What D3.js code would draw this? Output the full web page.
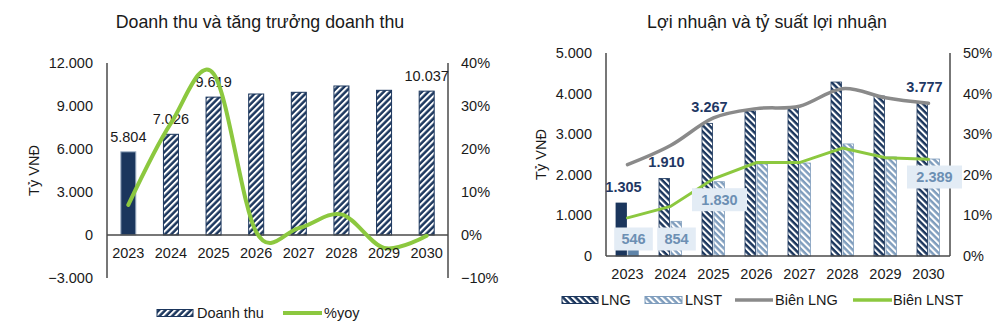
<!DOCTYPE html>
<html><head><meta charset="utf-8">
<script src="https://cdn.jsdelivr.net/npm/d3@7"></script>
<style>
body{margin:0;background:#fff}
text{font-family:"Liberation Sans",Arial,sans-serif;fill:#1a1a1a}
</style></head>
<body><svg id="c" width="1004" height="325"></svg>
<script>
// ---- data ----
const years = ["2023","2024","2025","2026","2027","2028","2029","2030"];
const revenue = [5804, 7026, 9619, 9837, 9956, 10395, 10095, 10037];
const revenueYoy = [0.07, 0.26, 0.375, 0.007, 0.016, 0.048, -0.03, -0.002];
const grossProfit = [1305, 1910, 3267, 3571, 3670, 4285, 3940, 3777];
const netProfit = [546, 854, 1830, 2266, 2290, 2760, 2440, 2389];
const grossMargin = [0.225, 0.272, 0.340, 0.363, 0.369, 0.412, 0.390, 0.376];
const netMargin = [0.094, 0.122, 0.190, 0.230, 0.230, 0.266, 0.242, 0.238];
const leftTicks = [-3000, 0, 3000, 6000, 9000, 12000];
const leftPctTicks = [-0.1, 0, 0.1, 0.2, 0.3, 0.4];
const rightTicks = [0, 1000, 2000, 3000, 4000, 5000];
const rightPctTicks = [0, 0.1, 0.2, 0.3, 0.4, 0.5];
const labeledIdx = [0, 1, 2, 7];

// ---- styles ----
const NAVY = "#1b365d", LIGHT = "#7f9dbd", GRAY = "#8a8a8a", GREEN = "#8cc83f";
const AX = "#4a4a4a";
const vn = d3.formatLocale({decimal:",", thousands:".", grouping:[3], currency:["",""]});
const fNum = vn.format(",.0f");
const fPct = d3.format(".0%");

const svg = d3.select("#c");
const defs = svg.append("defs");
function hatch(id, bg, angle, period) {
  const p = defs.append("pattern").attr("id", id).attr("patternUnits","userSpaceOnUse")
    .attr("width", period).attr("height", period).attr("patternTransform", `rotate(${angle})`);
  p.append("rect").attr("width", period).attr("height", period).attr("fill", bg);
  p.append("rect").attr("x", 0).attr("y", 0).attr("width", period*0.45).attr("height", period).attr("fill", "#fff");
}
hatch("hL", NAVY, 45, 4.5);
hatch("hR", NAVY, -45, 4.5);
hatch("hR2", LIGHT, -45, 4.5);

// ================= LEFT CHART =================
{
  const x = d3.scaleBand().domain(years).range([107, 448]).padding(0);
  const y = d3.scaleLinear().domain([-3000, 12000]).range([278, 63]);
  const y2 = d3.scaleLinear().domain([-0.1, 0.4]).range([278, 63]);
  const cx = d => x(d) + x.bandwidth()/2;
  const g = svg.append("g");

  g.append("text").attr("x", 260).attr("y", 28).attr("text-anchor","middle")
    .style("font-size","17.8px").text("Doanh thu và tăng trưởng doanh thu");

  // axes lines
  g.append("line").attr("x1",107).attr("x2",107).attr("y1",y(12000)).attr("y2",y(-3000)).attr("stroke",AX).attr("stroke-width",1.5);
  g.append("line").attr("x1",448).attr("x2",448).attr("y1",y(12000)).attr("y2",y(-3000)).attr("stroke",AX).attr("stroke-width",1.5);

  // bars
  g.selectAll("rect.bar").data(years).join("rect").attr("class","bar")
    .attr("x", (d)=>cx(d)-7.5).attr("width", 15)
    .attr("y", (d,i)=>y(revenue[i])).attr("height", (d,i)=>y(0)-y(revenue[i]))
    .attr("fill", (d,i)=> i===0 ? NAVY : "url(#hL)")
    .attr("stroke", (d,i)=> i===0 ? "#9fb0c4" : NAVY).attr("stroke-width", 1);

  g.append("line").attr("x1",107).attr("x2",448).attr("y1",y(0)).attr("y2",y(0)).attr("stroke",AX).attr("stroke-width",1.5);

  // labels
  g.selectAll("text.dl").data(labeledIdx).join("text").attr("class","dl")
    .attr("x", i=>cx(years[i])).attr("y", i=>y(revenue[i])-10).attr("text-anchor","middle")
    .style("font-size","14.5px").text(i=>fNum(revenue[i]));

  // yoy line
  const line = d3.line().x((d,i)=>cx(years[i])).y(d=>y2(d)).curve(d3.curveCardinal.tension(0));
  g.append("path").attr("d", line(revenueYoy)).attr("fill","none").attr("stroke",GREEN).attr("stroke-width",4).attr("stroke-linecap","round");

  // tick labels
  g.selectAll("text.yl").data(leftTicks).join("text").attr("class","yl")
    .attr("x", 93).attr("y", d=>y(d)).attr("dy","0.35em").attr("text-anchor","end")
    .style("font-size","14.5px").text(d=>fNum(d));
  g.selectAll("text.yr").data(leftPctTicks).join("text").attr("class","yr")
    .attr("x", 461).attr("y", d=>y2(d)).attr("dy","0.35em").attr("text-anchor","start")
    .style("font-size","14.5px").text(d=>fPct(d));
  g.selectAll("text.xl").data(years).join("text").attr("class","xl")
    .attr("x", d=>cx(d)).attr("y", 258).attr("text-anchor","middle")
    .style("font-size","14.5px").text(d=>d);
  g.append("text").attr("transform",`translate(39,${(y(12000)+y(-3000))/2}) rotate(-90)`)
    .attr("text-anchor","middle").style("font-size","14.5px").text("Tỷ VNĐ");

  // legend
  const ly = 313;
  g.append("rect").attr("x",157).attr("y",ly-3.5).attr("width",36).attr("height",7).attr("fill","url(#hL)").attr("stroke",NAVY).attr("stroke-width",1);
  g.append("text").attr("x",197).attr("y",ly).attr("dy","0.35em").style("font-size","14.5px").text("Doanh thu");
  g.append("line").attr("x1",283).attr("x2",322).attr("y1",ly).attr("y2",ly).attr("stroke",GREEN).attr("stroke-width",4);
  g.append("text").attr("x",324).attr("y",ly).attr("dy","0.35em").style("font-size","14.5px").text("%yoy");
}

// ================= RIGHT CHART =================
{
  const x = d3.scaleBand().domain(years).range([606, 950]).padding(0);
  const y = d3.scaleLinear().domain([0, 5000]).range([256, 53]);
  const y2 = d3.scaleLinear().domain([0, 0.5]).range([256, 53]);
  const cx = d => x(d) + x.bandwidth()/2;
  const g = svg.append("g");

  g.append("text").attr("x", 767).attr("y", 28).attr("text-anchor","middle")
    .style("font-size","17.8px").text("Lợi nhuận và tỷ suất lợi nhuận");

  g.append("line").attr("x1",606).attr("x2",606).attr("y1",y(5000)).attr("y2",y(0)).attr("stroke",AX).attr("stroke-width",1.5);
  g.append("line").attr("x1",950).attr("x2",950).attr("y1",y(5000)).attr("y2",y(0)).attr("stroke",AX).attr("stroke-width",1.5);

  // bars
  g.selectAll("rect.lng").data(years).join("rect").attr("class","lng")
    .attr("x", d=>cx(d)-11.5).attr("width", 10.5)
    .attr("y", (d,i)=>y(grossProfit[i])).attr("height", (d,i)=>y(0)-y(grossProfit[i]))
    .attr("fill", (d,i)=> i===0 ? NAVY : "url(#hR)")
    .attr("stroke", NAVY).attr("stroke-width", 0.8);
  g.selectAll("rect.lnst").data(years).join("rect").attr("class","lnst")
    .attr("x", d=>cx(d)+0.5).attr("width", 10.5)
    .attr("y", (d,i)=>y(netProfit[i])).attr("height", (d,i)=>y(0)-y(netProfit[i]))
    .attr("fill", (d,i)=> i===0 ? "#5f84a9" : "url(#hR2)")
    .attr("stroke", LIGHT).attr("stroke-width", 0.8);

  g.append("line").attr("x1",606).attr("x2",950).attr("y1",y(0)).attr("y2",y(0)).attr("stroke",AX).attr("stroke-width",1.5);

  // margin lines
  const lineS = d3.line().x((d,i)=>cx(years[i])).y(d=>y2(d)).curve(d3.curveCardinal.tension(0));
  const lineL = d3.line().x((d,i)=>cx(years[i])).y(d=>y2(d));
  g.append("path").attr("d", lineS(grossMargin)).attr("fill","none").attr("stroke",GRAY).attr("stroke-width",3.5).attr("stroke-linecap","round");
  g.append("path").attr("d", lineL(netMargin)).attr("fill","none").attr("stroke",GREEN).attr("stroke-width",3).attr("stroke-linecap","round");

  // LNG labels
  g.selectAll("text.dl").data(labeledIdx).join("text").attr("class","dl")
    .attr("x", i=>cx(years[i])-4).attr("y", i=>y(grossProfit[i])-11).attr("text-anchor","middle")
    .style("font-size","14.5px").style("font-weight","bold").style("fill","#1f3864").text(i=>fNum(grossProfit[i]));

  // LNST labels with box
  const lg = g.selectAll("g.nl").data(labeledIdx).join("g").attr("class","nl")
    .attr("transform", i=>`translate(${cx(years[i])+6},${Math.min(y(netProfit[i])+18, 239)})`);
  lg.append("rect").attr("x", i=> -(fNum(netProfit[i]).length*8.2+14)/2).attr("y",-11.5)
    .attr("width", i=> fNum(netProfit[i]).length*8.2+14).attr("height",23).attr("fill","#e3ecf5");
  lg.append("text").attr("text-anchor","middle").attr("dy","0.35em")
    .style("font-size","14.5px").style("font-weight","bold").style("fill","#6c8fb3").text(i=>fNum(netProfit[i]));

  // ticks
  g.selectAll("text.yl").data(rightTicks).join("text").attr("class","yl")
    .attr("x", 592).attr("y", d=>y(d)).attr("dy","0.35em").attr("text-anchor","end")
    .style("font-size","14.5px").text(d=>fNum(d));
  g.selectAll("text.yr").data(rightPctTicks).join("text").attr("class","yr")
    .attr("x", 963).attr("y", d=>y2(d)).attr("dy","0.35em").attr("text-anchor","start")
    .style("font-size","14.5px").text(d=>fPct(d));
  g.selectAll("text.xl").data(years).join("text").attr("class","xl")
    .attr("x", d=>cx(d)).attr("y", 279).attr("text-anchor","middle")
    .style("font-size","14.5px").text(d=>d);
  g.append("text").attr("transform",`translate(546,${(y(5000)+y(0))/2}) rotate(-90)`)
    .attr("text-anchor","middle").style("font-size","14.5px").text("Tỷ VNĐ");

  // legend
  const ly = 300;
  g.append("rect").attr("x",562).attr("y",ly-3.5).attr("width",36).attr("height",7).attr("fill","url(#hR)").attr("stroke",NAVY).attr("stroke-width",1);
  g.append("text").attr("x",601).attr("y",ly).attr("dy","0.35em").style("font-size","14.5px").text("LNG");
  g.append("rect").attr("x",645).attr("y",ly-3.5).attr("width",37).attr("height",7).attr("fill","url(#hR2)").attr("stroke",LIGHT).attr("stroke-width",1);
  g.append("text").attr("x",685).attr("y",ly).attr("dy","0.35em").style("font-size","14.5px").text("LNST");
  g.append("line").attr("x1",735).attr("x2",773).attr("y1",ly).attr("y2",ly).attr("stroke",GRAY).attr("stroke-width",3.5);
  g.append("text").attr("x",775).attr("y",ly).attr("dy","0.35em").style("font-size","14.5px").text("Biên LNG");
  g.append("line").attr("x1",853).attr("x2",892).attr("y1",ly).attr("y2",ly).attr("stroke",GREEN).attr("stroke-width",3.5);
  g.append("text").attr("x",893).attr("y",ly).attr("dy","0.35em").style("font-size","14.5px").text("Biên LNST");
}
</script></body></html>
